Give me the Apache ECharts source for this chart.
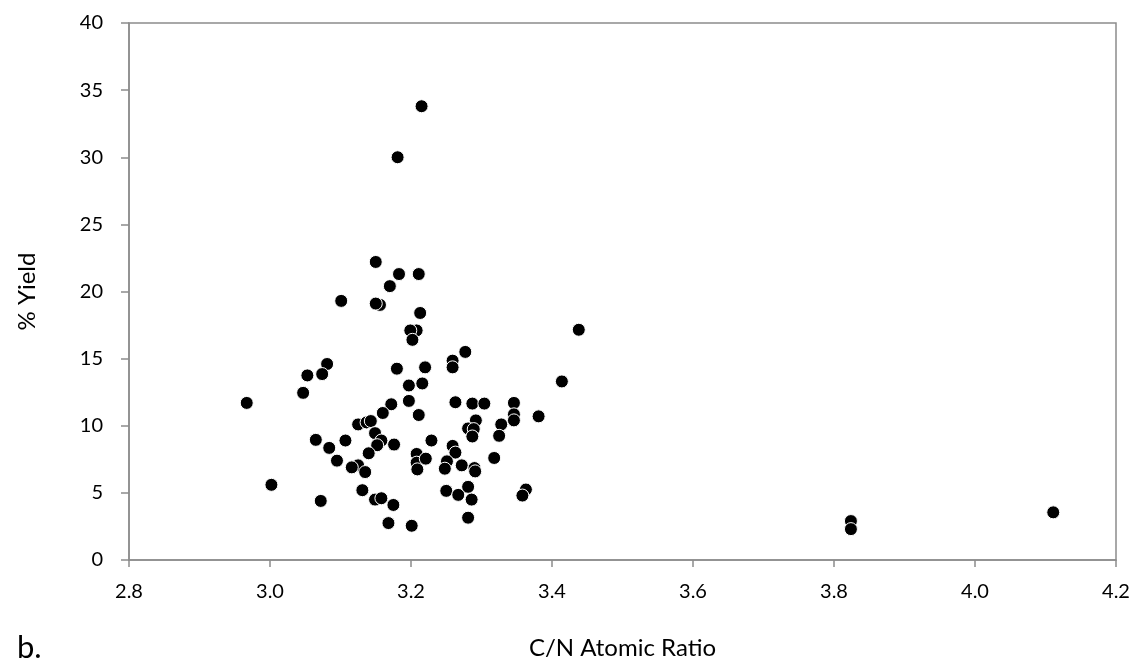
<!DOCTYPE html>
<html>
<head>
<meta charset="utf-8">
<script src="https://cdn.jsdelivr.net/npm/echarts@6/dist/echarts.min.js"></script>
<style>
html,body{margin:0;padding:0;background:#fff;}
#chart{width:1139px;height:668px;}
</style>
</head>
<body>
<div id="chart"></div>
<script>
// C/N atomic ratio (x) values
const cnRatio = [
  3.215, 3.181, 3.150, 3.183, 3.211,
  3.170, 3.101, 3.156, 3.150, 3.213,
  3.208, 3.199, 3.202, 3.081, 3.053, 3.074, 3.047, 2.967,
  3.180, 3.220, 3.197, 3.216, 3.197, 3.172, 3.211, 3.160,
  3.125, 3.137, 3.143, 3.149, 3.065, 3.107, 3.158, 3.152, 3.176,
  3.084, 3.140, 3.095, 3.125, 3.116, 3.135, 3.002, 3.072, 3.131,
  3.149, 3.158, 3.175, 3.168, 3.201, 3.208, 3.208, 3.209, 3.221,
  3.438, 3.277, 3.259, 3.259, 3.414, 3.263, 3.287, 3.304, 3.346,
  3.346, 3.346, 3.381, 3.292, 3.328, 3.281, 3.289, 3.287, 3.325, 3.229,
  3.259, 3.263, 3.318, 3.251, 3.248, 3.272, 3.290, 3.291,
  3.250, 3.267, 3.281, 3.286, 3.281, 3.363, 3.358,
  3.824, 3.824, 4.111
];
// % yield (y) values
const yieldPct = [
  33.8, 30.0, 22.2, 21.3, 21.3,
  20.4, 19.3, 19.0, 19.1, 18.4,
  17.1, 17.1, 16.4, 14.6, 13.75, 13.85, 12.45, 11.7,
  14.25, 14.35, 13.0, 13.15, 11.85, 11.6, 10.8, 10.95,
  10.1, 10.25, 10.35, 9.45, 8.95, 8.9, 8.9, 8.55, 8.6,
  8.35, 7.95, 7.4, 7.05, 6.9, 6.55, 5.6, 4.4, 5.2,
  4.5, 4.6, 4.1, 2.75, 2.55, 7.9, 7.25, 6.75, 7.55,
  17.15, 15.5, 14.85, 14.35, 13.3, 11.75, 11.65, 11.65, 11.7,
  10.85, 10.4, 10.7, 10.4, 10.1, 9.8, 9.75, 9.2, 9.25, 8.9,
  8.5, 8.0, 7.6, 7.35, 6.8, 7.05, 6.85, 6.6,
  5.15, 4.85, 5.45, 4.5, 3.15, 5.25, 4.8,
  2.9, 2.3, 3.55
];
const xTicks = {min: 2.8, max: 4.2, interval: 0.2};
const yTicks = {min: 0, max: 40, interval: 5};

const points = cnRatio.map((x, i) => [x, yieldPct[i]]);
const FONT = 'Lato, "Open Sans", sans-serif';
const axisGray = '#8c8c8c';

const chart = echarts.init(document.getElementById('chart'), null, {renderer: 'canvas'});
chart.setOption({
  backgroundColor: '#ffffff',
  animation: false,
  grid: {left: 129, right: 23, top: 23, bottom: 108, show: true, borderColor: axisGray, borderWidth: 1.5, backgroundColor: 'transparent'},
  xAxis: {
    type: 'value', min: xTicks.min, max: xTicks.max, interval: xTicks.interval,
    name: 'C/N Atomic Ratio', nameLocation: 'middle', nameGap: 76,
    nameTextStyle: {fontFamily: FONT, fontSize: 24, color: '#000'},
    axisLine: {show: true, onZero: false, lineStyle: {color: axisGray, width: 1.5}},
    axisTick: {show: true, inside: false, length: 7, lineStyle: {color: axisGray, width: 1.5}},
    axisLabel: {fontFamily: FONT, fontSize: 20, color: '#000', margin: 22, formatter: v => v.toFixed(1)},
    splitLine: {show: false}
  },
  yAxis: {
    type: 'value', min: yTicks.min, max: yTicks.max, interval: yTicks.interval,
    name: '% Yield', nameLocation: 'middle', nameGap: 90, nameRotate: 90,
    nameTextStyle: {fontFamily: FONT, fontSize: 24, color: '#000'},
    axisLine: {show: true, onZero: false, lineStyle: {color: axisGray, width: 1.5}},
    axisTick: {show: true, inside: false, length: 8, lineStyle: {color: axisGray, width: 1.5}},
    axisLabel: {fontFamily: FONT, fontSize: 20, color: '#000', margin: 26},
    splitLine: {show: false}
  },
  graphic: [{
    type: 'text', left: 17, top: 632,
    style: {text: 'b.', fontFamily: FONT, fontSize: 31, fill: '#000'}
  }],
  series: [{
    type: 'scatter',
    data: points,
    symbol: 'circle',
    symbolSize: 13,
    itemStyle: {color: '#000', borderColor: '#fff', borderWidth: 1, opacity: 1}
  }]
});
</script>
</body>
</html>
